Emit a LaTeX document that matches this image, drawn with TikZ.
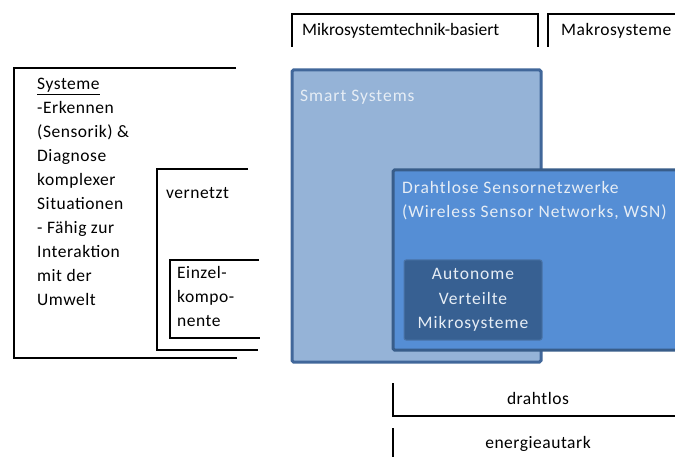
\documentclass[tikz,border=0pt]{standalone}
\usepackage{fontspec}
\setmainfont{Carlito}
\newfontfamily\boxface[LetterSpace=5.5]{Carlito}
\newfontfamily\labelface[LetterSpace=3]{Carlito}
\tikzset{
  bracket/.style={line width=2.6pt, black},
  smartbox/.style={fill=smartfill, draw=smartline, line width=3pt, rounded corners=1.5pt},
  wsnbox/.style={fill=wsnfill, draw=wsnline, line width=3pt, rounded corners=1.5pt},
  autobox/.style={fill=autofill, draw=autoline, line width=1pt, rounded corners=2pt},
  lbl/.style={inner sep=0pt, font=\labelface\fontsize{17.5}{24}\selectfont},
  boxlbl/.style={inner sep=0pt, text=boxtext, font=\boxface\fontsize{17.5}{24.5}\selectfont}
}
\definecolor{smartfill}{HTML}{95B3D7}
\definecolor{smartline}{HTML}{41679A}
\definecolor{wsnfill}{HTML}{558ED5}
\definecolor{wsnline}{HTML}{385D8A}
\definecolor{autofill}{HTML}{376092}
\definecolor{autoline}{HTML}{4A74A8}
\definecolor{boxtext}{HTML}{E6EDF5}
\begin{document}
\begin{tikzpicture}[x=1pt, y=-1pt]
  \useasboundingbox (0,0) rectangle (675,457);
  \clip (0,0) rectangle (675,457);

  % left brackets
  \draw[bracket] (236,68) -- (14,68) -- (14,358) -- (237,358);
  \draw[bracket] (248,169) -- (157,169) -- (157,350) -- (258,350);
  \draw[bracket] (259,260) -- (170,260) -- (170,338) -- (260,338);

  \node[lbl, anchor=north west, align=left] (systeme) at (37,78)
    {\underline{Systeme}\\-Erkennen\\(Sensorik) \&\\Diagnose\\komplexer\\Situationen\\- Fähig zur\\Interaktion\\mit der\\Umwelt};
  \node[lbl, anchor=west] (vernetzt) at (166,193) {vernetzt};
  \node[lbl, anchor=north west, align=left] (einzel) at (177,266)
    {Einzel-\\kompo-\\nente};

  % top brackets
  \draw[bracket] (292,47) -- (292,14) -- (538,14) -- (538,47);
  \draw[bracket] (548,47) -- (548,14) -- (680,14);
  \node[lbl, font=\fontsize{17.5}{24}\selectfont, anchor=west] (mikro) at (302,31) {Mikrosystemtechnik-basiert};
  \node[lbl, anchor=west] (makro) at (561,31) {Makrosysteme};

  % boxes
  \draw[smartbox] (292,70) rectangle (541,362);
  \node[boxlbl, anchor=west] (smart) at (300,97) {Smart Systems};
  \draw[wsnbox] (393,170) rectangle (700,350);
  \node[boxlbl, anchor=north west, align=left] (wsn) at (402,181)
    {Drahtlose Sensornetzwerke\\(Wireless Sensor Networks, WSN)};
  \draw[autobox] (404,260) rectangle (542,340);
  \node[boxlbl, align=center] (auto) at (473,300)
    {Autonome\\Verteilte\\Mikrosysteme};

  % bottom brackets
  \draw[bracket] (393,383) -- (393,416) -- (680,416);
  \draw[bracket] (393,428) -- (393,460);
  \node[lbl] (drahtlos) at (538,398) {drahtlos};
  \node[lbl] (energie) at (538,444) {energieautark};
\end{tikzpicture}
\end{document}
